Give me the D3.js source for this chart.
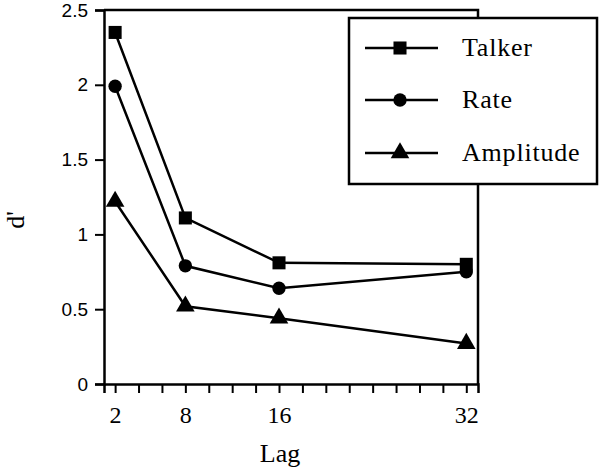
<!DOCTYPE html>
<html><head><meta charset="utf-8">
<script src="https://cdn.jsdelivr.net/npm/d3@7"></script>
<style>body{margin:0;background:#fff}svg{display:block}</style>
</head><body><svg id="c" width="600" height="469"></svg>
<script>
const lags = [2, 8, 16, 32];
const talker = [2.35, 1.11, 0.81, 0.80];
const rate = [1.99, 0.79, 0.64, 0.75];
const amplitude = [1.22, 0.52, 0.44, 0.27];
const seriesNames = ["Talker", "Rate", "Amplitude"];
const yTicks = [0, 0.5, 1, 1.5, 2, 2.5];
const xTicks = [2, 4, 6, 8, 10, 12, 14, 16, 18, 20, 22, 24, 26, 28, 30, 32];
const xLabels = [2, 8, 16, 32];

const svg = d3.select("#c");
const L = 104, R = 478, T = 10, B = 384;
const x = d3.scaleLinear().domain([1.05, 33]).range([L, R]);
const y = d3.scaleLinear().domain([0, 2.5]).range([B, T]);
const symbols = [d3.symbolSquare, d3.symbolCircle, d3.symbolTriangle];
const sizes = [170, 140, 150];
const data = [talker, rate, amplitude];

// frame (top & right)
svg.append("path").attr("d", `M${L},${T}H${R}V${B}`).attr("fill","none").attr("stroke","#000").attr("stroke-width",2.5);

const xa = svg.append("g").attr("transform", `translate(0,${B})`)
  .call(d3.axisBottom(x).tickValues(xTicks).tickSize(9).tickPadding(13)
    .tickFormat(d => xLabels.includes(d) ? d : ""));
const ya = svg.append("g").attr("transform", `translate(${L},0)`)
  .call(d3.axisLeft(y).tickValues(yTicks).tickSize(9).tickPadding(7).tickFormat(d3.format("")));
[xa, ya].forEach(a => {
  a.select(".domain").attr("stroke-width", 2.5);
  a.selectAll(".tick line").attr("stroke-width", 2);
});
xa.selectAll("text").attr("font-family","Liberation Serif").attr("font-size",24).attr("fill","#000");
ya.selectAll("text").attr("font-family","Liberation Sans").attr("font-size",19).attr("fill","#000");

const line = d3.line().x((d,i) => x(lags[i])).y(d => y(d));
data.forEach((s, k) => {
  svg.append("path").attr("d", line(s)).attr("fill","none").attr("stroke","#000").attr("stroke-width",2.5);
  svg.selectAll(null).data(s).enter().append("path")
    .attr("transform", (d,i) => `translate(${x(lags[i])},${y(d)})`)
    .attr("d", d3.symbol(symbols[k], sizes[k]));
});

// axis titles
svg.append("text").attr("x", 280).attr("y", 462).attr("text-anchor","middle")
  .attr("font-family","Liberation Serif").attr("font-size",26).text("Lag");
svg.append("text").attr("transform","translate(24,220) rotate(-90)").attr("text-anchor","middle")
  .attr("font-family","Liberation Serif").attr("font-size",26).text("d'");

// legend
const lg = svg.append("g");
lg.append("rect").attr("x",349).attr("y",18).attr("width",248).attr("height",166)
  .attr("fill","#fff").attr("stroke","#000").attr("stroke-width",2.5);
const rows = [48, 100, 153];
seriesNames.forEach((n, k) => {
  lg.append("line").attr("x1",365).attr("x2",438).attr("y1",rows[k]).attr("y2",rows[k]).attr("stroke","#000").attr("stroke-width",2.5);
  lg.append("path").attr("transform",`translate(400,${rows[k]})`).attr("d", d3.symbol(symbols[k], sizes[k]));
  lg.append("text").attr("x",462).attr("y",rows[k]+8).attr("font-family","Liberation Serif").attr("font-size",26)
    .attr("letter-spacing",0.8).text(n);
});
</script></body></html>
